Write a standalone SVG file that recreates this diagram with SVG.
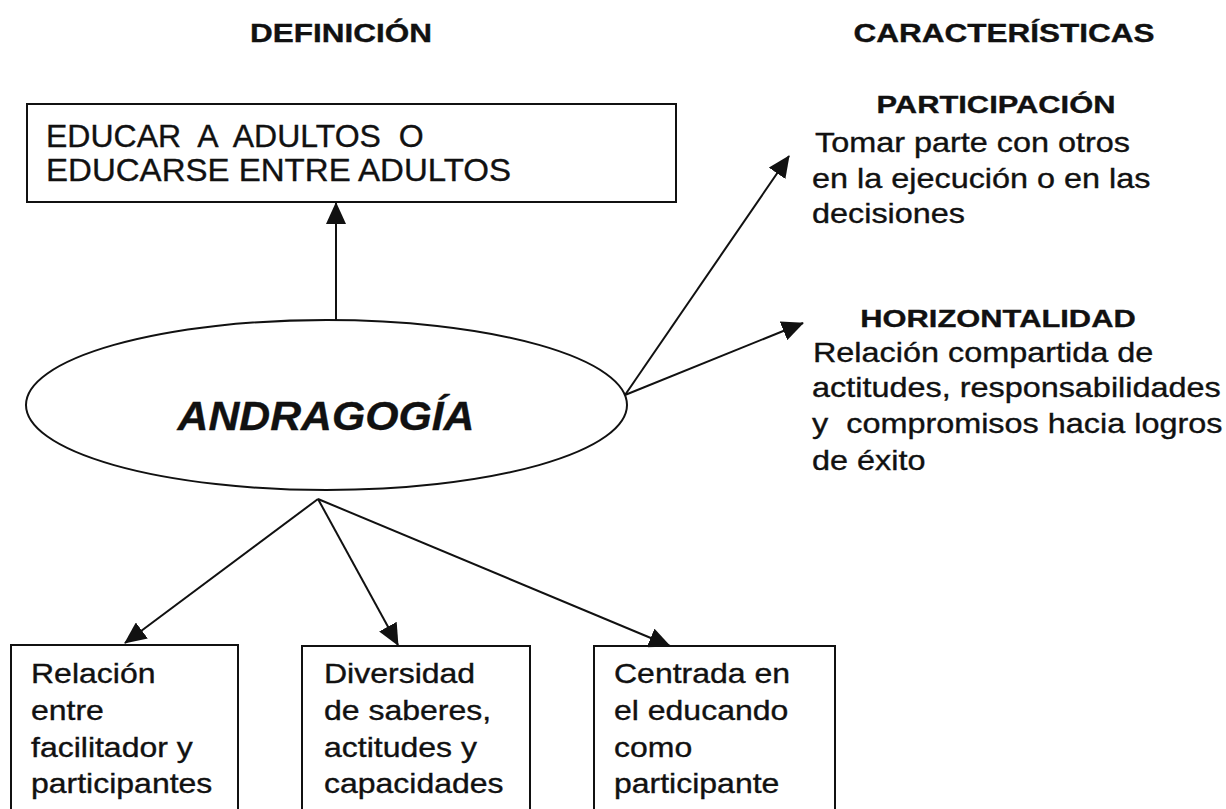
<svg xmlns="http://www.w3.org/2000/svg" width="1226" height="809" viewBox="0 0 1226 809">
<style>
.bg{fill:#ffffff}
.box{fill:none;stroke:#111;stroke-width:2}
.conn{fill:none;stroke:#111;stroke-width:2;marker-end:url(#ah)}
.t{font-family:"Liberation Sans",Arial,sans-serif;fill:#111;stroke:#111;stroke-width:0.35}
.body{font-size:27px}
.head{font-size:25px;font-weight:bold}
.sub{font-size:24.5px;font-weight:bold}
.boxt{font-size:32px}
.title{font-size:41px;font-weight:bold;font-style:italic}
.pre{white-space:pre}
</style>
<defs>
<marker id="ah" markerUnits="userSpaceOnUse" markerWidth="22" markerHeight="20" viewBox="0 0 22 20" refX="21" refY="10" orient="auto">
<path d="M0,0 L22,10 L0,20 z" fill="#111"/>
</marker>
</defs>
<rect class="bg" x="0" y="0" width="1226" height="809"/>

<g id="headers">
<text class="t head" text-anchor="middle" transform="translate(341,42) scale(1.26,1)">DEFINICIÓN</text>
<text class="t head" text-anchor="middle" transform="translate(1004,42) scale(1.26,1)">CARACTERÍSTICAS</text>
</g>

<g id="connectors">
<line class="conn" x1="336" y1="320" x2="336" y2="203"/>
<line class="conn" x1="625" y1="395" x2="789" y2="156"/>
<line class="conn" x1="625" y1="395" x2="803" y2="323"/>
<line class="conn" x1="318" y1="499" x2="125" y2="643"/>
<line class="conn" x1="318" y1="499" x2="398" y2="645"/>
<line class="conn" x1="318" y1="499" x2="670" y2="646"/>
</g>

<g id="definicion">
<rect class="box" x="27" y="104" width="649" height="98"/>
<text class="t boxt pre" xml:space="preserve" x="46" y="147">EDUCAR  A  ADULTOS  O</text>
<text class="t boxt" x="46" y="181" textLength="465" lengthAdjust="spacingAndGlyphs">EDUCARSE ENTRE ADULTOS</text>
</g>

<g id="andragogia">
<ellipse class="box" cx="326.5" cy="405" rx="300.5" ry="85"/>
<text class="t title" x="326" y="430" text-anchor="middle" textLength="297" lengthAdjust="spacingAndGlyphs">ANDRAGOGÍA</text>
</g>

<g id="participacion">
<text class="t sub" text-anchor="middle" transform="translate(996,113) scale(1.26,1)">PARTICIPACIÓN</text>
<text class="t body" transform="translate(812,0) scale(1.2,1)">
<tspan x="2.5" y="152">Tomar parte con otros</tspan>
<tspan x="0" y="188">en la ejecución o en las</tspan>
<tspan x="0" y="223">decisiones</tspan>
</text>
</g>

<g id="horizontalidad">
<text class="t sub" text-anchor="middle" transform="translate(998,327) scale(1.26,1)">HORIZONTALIDAD</text>
<text class="t body pre" xml:space="preserve" transform="translate(812,0) scale(1.2,1)"><tspan x="0.8" y="362">Relación compartida de</tspan><tspan x="0" y="397">actitudes, responsabilidades</tspan><tspan x="0" y="433">y  compromisos hacia logros</tspan><tspan x="0" y="470">de éxito</tspan></text>
</g>

<g id="relacion">
<rect class="box" x="11" y="645" width="227" height="190"/>
<text class="t body" transform="translate(31,0) scale(1.185,1)">
<tspan x="0" y="683">Relación</tspan>
<tspan x="0" y="720">entre</tspan>
<tspan x="0" y="757">facilitador y</tspan>
<tspan x="0" y="793">participantes</tspan>
</text>
</g>

<g id="diversidad">
<rect class="box" x="302" y="646" width="228" height="190"/>
<text class="t body" transform="translate(324,0) scale(1.185,1)">
<tspan x="0" y="683">Diversidad</tspan>
<tspan x="0" y="720">de saberes,</tspan>
<tspan x="0" y="757">actitudes y</tspan>
<tspan x="0" y="793">capacidades</tspan>
</text>
</g>

<g id="centrada">
<rect class="box" x="594" y="646" width="241" height="190"/>
<text class="t body" transform="translate(614,0) scale(1.185,1)">
<tspan x="0" y="683">Centrada en</tspan>
<tspan x="0" y="720">el educando</tspan>
<tspan x="0" y="757">como</tspan>
<tspan x="0" y="793">participante</tspan>
</text>
</g>
</svg>
